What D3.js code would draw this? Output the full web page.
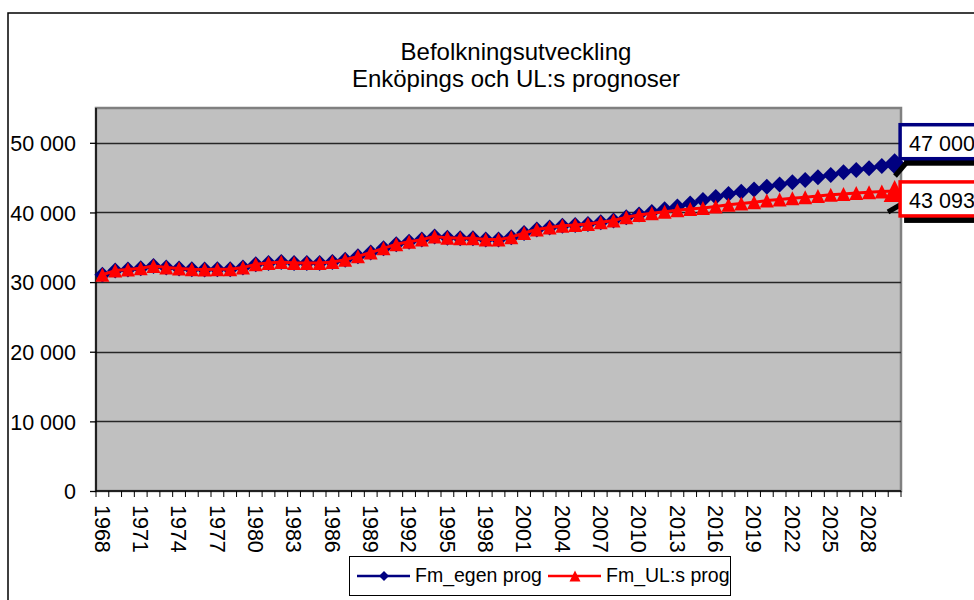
<!DOCTYPE html>
<html>
<head>
<meta charset="utf-8">
<script src="https://cdn.jsdelivr.net/npm/d3@7/dist/d3.min.js"></script>
<style>
  body { margin: 0; background: #fff; }
  svg { display: block; font-family: Arial, "Liberation Sans", sans-serif; }
</style>
</head>
<body>
<div id="chart"></div>
<script>
// --- DATA ---
const years = [1968, 1969, 1970, 1971, 1972, 1973, 1974, 1975, 1976, 1977,
  1978, 1979, 1980, 1981, 1982, 1983, 1984, 1985, 1986, 1987,
  1988, 1989, 1990, 1991, 1992, 1993, 1994, 1995, 1996, 1997,
  1998, 1999, 2000, 2001, 2002, 2003, 2004, 2005, 2006, 2007,
  2008, 2009, 2010, 2011, 2012, 2013, 2014, 2015, 2016, 2017,
  2018, 2019, 2020, 2021, 2022, 2023, 2024, 2025, 2026, 2027,
  2028, 2029, 2030];

const egenProg = [31050, 31650, 31800, 32000, 32300, 32100, 31950, 31850, 31800, 31850,
  31850, 32100, 32550, 32750, 32900, 32750, 32750, 32750, 32900, 33200,
  33700, 34250, 34850, 35450, 35800, 36100, 36550, 36350, 36300, 36300,
  36100, 36100, 36450, 37050, 37550, 37850, 38100, 38200, 38350, 38600,
  38850, 39300, 39700, 40050, 40450, 40850, 41300, 41780, 42230, 42650,
  42980, 43310, 43700, 44030, 44320, 44660, 45040, 45380, 45760, 46100,
  46330, 46680, 47000];

const ulProg = [31050, 31650, 31800, 32000, 32300, 32100, 31950, 31850, 31800, 31850,
  31850, 32100, 32550, 32750, 32900, 32750, 32750, 32750, 32900, 33200,
  33700, 34250, 34850, 35450, 35800, 36100, 36550, 36350, 36300, 36300,
  36100, 36100, 36450, 37050, 37550, 37850, 38100, 38200, 38350, 38600,
  38850, 39300, 39650, 39900, 40100, 40300, 40500, 40650, 40850, 41100,
  41300, 41450, 41700, 41850, 42050, 42200, 42350, 42550, 42650, 42800,
  42900, 43000, 43093];

const yTicks = [0, 10000, 20000, 30000, 40000, 50000];
const xLabelYears = years.filter((d, i) => i % 3 === 0 && d <= 2028);
const titleLines = ["Befolkningsutveckling", "Enköpings och UL:s prognoser"];
const seriesNames = ["Fm_egen prog", "Fm_UL:s prog"];

// --- LAYOUT ---
const width = 974;
const height = 600;
const plot = { left: 96, right: 901, top: 108, bottom: 491 };
const blue = "#000080";
const red = "#FF0000";

const sv = d3.formatLocale({ decimal: ",", thousands: " ", grouping: [3], currency: ["", ""] });
const fmt = sv.format(",d");

const x = d3.scaleBand().domain(years).range([plot.left, plot.right]).padding(0);
const y = d3.scaleLinear().domain([0, 55000]).range([plot.bottom, plot.top]);
const cx = d => x(d) + x.bandwidth() / 2;

const svg = d3.select("#chart").append("svg")
  .attr("width", width)
  .attr("height", height);

// chart frame
svg.append("rect")
  .attr("x", 8).attr("y", 13)
  .attr("width", 1000).attr("height", 700)
  .attr("fill", "#fff")
  .attr("stroke", "#000")
  .attr("stroke-width", 1.5);

// title
svg.append("g").selectAll("text")
  .data(titleLines)
  .join("text")
  .attr("x", 516)
  .attr("y", (d, i) => 59.5 + i * 27)
  .attr("text-anchor", "middle")
  .style("font-size", "24px")
  .attr("fill", "#000")
  .text(d => d);

// plot area
svg.append("rect")
  .attr("x", plot.left).attr("y", plot.top)
  .attr("width", plot.right - plot.left)
  .attr("height", plot.bottom - plot.top)
  .attr("fill", "#C0C0C0")
  .attr("stroke", "#808080")
  .attr("stroke-width", 2.5);

// gridlines
svg.append("g").selectAll("line")
  .data(yTicks.filter(d => d > 0))
  .join("line")
  .attr("x1", plot.left).attr("x2", plot.right)
  .attr("y1", d => Math.round(y(d)) + 0.5).attr("y2", d => Math.round(y(d)) + 0.5)
  .attr("stroke", "#262626")
  .attr("stroke-width", 1.3);

// y axis
const yAxis = svg.append("g")
  .attr("transform", `translate(${plot.left},0)`)
  .call(d3.axisLeft(y).tickValues(yTicks).tickSize(6).tickPadding(14).tickFormat(fmt));
yAxis.select(".domain").attr("stroke", "#000").attr("stroke-width", 1.5)
  .attr("d", `M0,${plot.top}V${plot.bottom}`);
yAxis.selectAll(".tick line").attr("stroke", "#000").attr("stroke-width", 1.3);
yAxis.selectAll(".tick text").style("font-size", "21.5px").attr("fill", "#000").attr("dy", "0.36em");

// x axis: tick marks at category boundaries
svg.append("g").selectAll("line")
  .data(years.concat([null]))
  .join("line")
  .attr("x1", d => d === null ? plot.right : x(d))
  .attr("x2", d => d === null ? plot.right : x(d))
  .attr("y1", plot.bottom).attr("y2", plot.bottom + 6)
  .attr("stroke", "#000").attr("stroke-width", 1);

const xAxis = svg.append("g")
  .attr("transform", `translate(0,${plot.bottom})`)
  .call(d3.axisBottom(x).tickValues(xLabelYears).tickSize(0));
xAxis.select(".domain").attr("stroke", "#000").attr("stroke-width", 1.5)
  .attr("d", `M${plot.left},0H${plot.right}`);
xAxis.selectAll(".tick text")
  .attr("transform", "rotate(90)")
  .attr("x", 14).attr("y", 0).attr("dy", "0.36em")
  .attr("text-anchor", "start")
  .style("font-size", "21.5px")
  .attr("fill", "#000");

// --- SERIES ---
const diamond = s => `M0,${-s / 2}L${s / 2},0L0,${s / 2}L${-s / 2},0Z`;
const triangle = s => `M0,${-s / 2}L${s / 2},${s / 2}L${-s / 2},${s / 2}Z`;

const series = [
  { name: seriesNames[0], values: egenProg, color: blue, shape: diamond, size: 16, lastSize: 21 },
  { name: seriesNames[1], values: ulProg, color: red, shape: triangle, size: 14, lastSize: 22 }
];

const line = d3.line()
  .x((d, i) => cx(years[i]))
  .y(d => y(d));

series.forEach(s => {
  const g = svg.append("g");
  g.append("path")
    .attr("d", line(s.values))
    .attr("fill", "none")
    .attr("stroke", s.color)
    .attr("stroke-width", 3)
    .attr("stroke-linejoin", "round");
  g.selectAll("path.marker")
    .data(s.values)
    .join("path")
    .attr("class", "marker")
    .attr("d", (d, i) => s.shape(i === s.values.length - 1 ? s.lastSize : s.size))
    .attr("transform", (d, i) => `translate(${cx(years[i])},${y(d)})`)
    .attr("fill", s.color);
});

// --- DATA CALLOUTS on the last point ---
const lastYear = years[years.length - 1];
const callouts = [
  { value: egenProg[egenProg.length - 1], color: blue, top: y(egenProg[egenProg.length - 1]) - 39,
    leader: [[907, 162], [895, 176]] },
  { value: ulProg[ulProg.length - 1], color: red, top: y(ulProg[ulProg.length - 1]) - 9,
    leader: [[900, 205], [888, 212]] }
];
const boxLeft = cx(lastYear) + 5.5;
callouts.forEach(c => {
  const g = svg.append("g");
  g.append("line")
    .attr("x1", c.leader[0][0]).attr("y1", c.leader[0][1])
    .attr("x2", c.leader[1][0]).attr("y2", c.leader[1][1])
    .attr("stroke", "#000").attr("stroke-width", 5);
  g.append("rect")
    .attr("x", boxLeft + 4).attr("y", c.top + 7)
    .attr("width", 120).attr("height", 34)
    .attr("fill", "#000");
  g.append("rect")
    .attr("x", boxLeft).attr("y", c.top)
    .attr("width", 120).attr("height", 34)
    .attr("fill", "#fff")
    .attr("stroke", c.color)
    .attr("stroke-width", 3.5);
  g.append("text")
    .attr("x", boxLeft + 9)
    .attr("y", c.top + 26)
    .style("font-size", "21.5px")
    .attr("fill", "#000")
    .text(fmt(c.value));
});

// --- LEGEND ---
const legend = svg.append("g");
legend.append("rect")
  .attr("x", 349.5).attr("y", 556.5)
  .attr("width", 381).attr("height", 39)
  .attr("fill", "#fff")
  .attr("stroke", "#000")
  .attr("stroke-width", 1);

const legendItems = [
  { name: seriesNames[0], color: blue, shape: diamond(10), x0: 357 },
  { name: seriesNames[1], color: red, shape: triangle(11), x0: 548 }
];
legendItems.forEach(it => {
  legend.append("line")
    .attr("x1", it.x0).attr("x2", it.x0 + 53)
    .attr("y1", 576).attr("y2", 576)
    .attr("stroke", it.color).attr("stroke-width", 2.5);
  legend.append("path")
    .attr("d", it.shape)
    .attr("transform", `translate(${it.x0 + 27},576)`)
    .attr("fill", it.color);
  legend.append("text")
    .attr("x", it.x0 + 58)
    .attr("y", 582)
    .style("font-size", "19.5px")
    .attr("fill", "#000")
    .text(it.name);
});
</script>
</body>
</html>
